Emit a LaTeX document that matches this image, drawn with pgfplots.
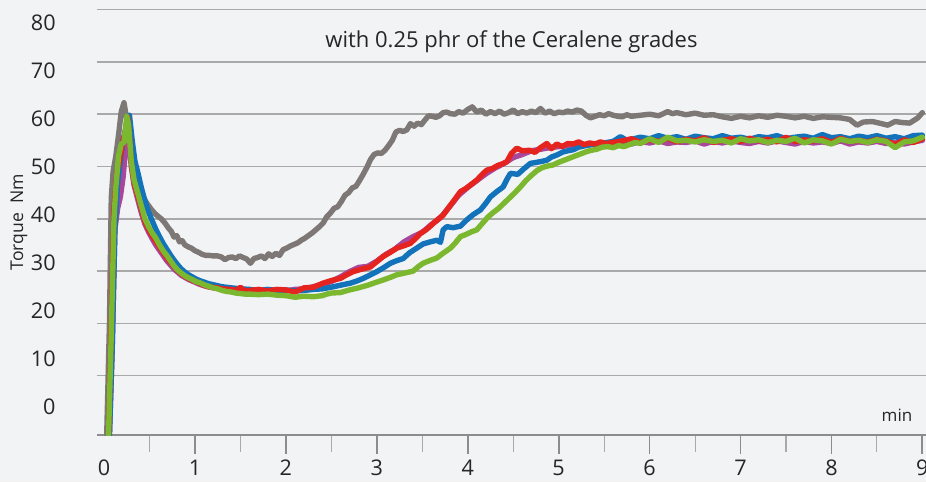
\documentclass[border=0pt]{standalone}
\usepackage{pgfplots}
\pgfplotsset{compat=1.18}
\usepackage{fontspec}
\setmainfont{Open Sans}
\definecolor{bg}{HTML}{F2F3F5}
\definecolor{gridgray}{HTML}{A9A9A9}
\definecolor{tickgray}{HTML}{8C8C8C}
\definecolor{cgrey}{HTML}{7D7875}
\definecolor{cblue}{HTML}{1273BB}
\definecolor{cred}{HTML}{E52420}
\definecolor{cmag}{HTML}{A8479B}
\definecolor{cgreen}{HTML}{7CB82F}
\begin{document}
\begin{tikzpicture}
\fill[bg] (-48.5pt,-23.5pt) rectangle (414.5pt,217.5pt);
\useasboundingbox (-48.5pt,-23.5pt) rectangle (414.5pt,217.5pt);
\begin{axis}[
  at={(0,0)}, anchor=south west,
  scale only axis, width=414.5pt, height=212.7pt,
  xmin=-0.077, xmax=9.04, ymin=-1.34, ymax=80,
  axis line style={draw=none},
  xtick pos=bottom, ytick pos=left,
  tick align=outside,
  xtick={1,2,3,4,5,6,7,8,9},
  xticklabels={1,2,3,4,5,6,7,8,9},
  minor xtick={0.5,1.5,2.5,3.5,4.5,5.5,6.5,7.5,8.5},
  extra x ticks={0}, extra x tick labels={0},
  extra x tick style={x tick style={draw=none}},
  major tick length=9.5pt, minor tick length=8.5pt,
  x tick style={draw=tickgray, line width=0.9pt},
  minor x tick style={draw=gridgray, line width=0.55pt},
  x tick label style={font=\fontsize{10.8}{13}\selectfont, text=black!85, anchor=center, yshift=-7pt},
  ytick={4.015,13.193,22.371,31.549,40.727,49.905,59.083,68.261,77.439},
  yticklabels={0,10,20,30,40,50,60,70,80},
  y tick style={draw=none},
  y tick label style={font=\fontsize{10.8}{13}\selectfont, text=black!85, anchor=east, inner sep=0pt, xshift=-11pt},
  extra y ticks={10,20,30,40,50,60,70,80},
  extra y tick labels={},
  extra y tick style={grid=major, y tick style={draw=none}},
  major grid style={draw=gridgray, line width=0.75pt},
  title={with 0.25 phr of the Ceralene grades},
  title style={at={(0.5,0.924)}, anchor=center, yshift=-6pt, font=\fontsize{11}{13}\selectfont, text=black!85},
  ylabel={Torque\ \ Nm},
  ylabel style={at={(axis description cs:-0.0941,0.50)}, anchor=center, font=\fontsize{8.8}{10}\selectfont, text=black!85},
  xlabel={min},
  xlabel style={at={(axis description cs:0.965,0.047)}, anchor=center, font=\fontsize{8.5}{10}\selectfont, text=black!85},
  every axis plot/.append style={line width=2.7pt, line join=round, line cap=round},
]
\draw[tickgray, line width=0.8pt] (rel axis cs:0,0) -- (rel axis cs:1,0);
% grey
\addplot[cgrey] coordinates {
(0.03,-1.3)(0.06,20)(0.08,44)(0.10,49)(0.13,52)(0.16,56)(0.19,60.5)(0.22,62.2)(0.25,59)(0.28,54)
(0.31,50.5)(0.34,48.5)(0.37,46.5)(0.40,45)(0.43,44.2)(0.47,43)(0.52,41.8)(0.56,41.0)(0.60,40.4)(0.63,40.0)
(0.67,39.2)(0.71,38.2)(0.74,37.6)(0.77,36.5)(0.80,36.8)(0.83,35.6)(0.86,35.8)(0.89,35.0)(0.93,34.6)(0.96,34.4)
(1.00,33.9)(1.04,33.6)(1.08,33.2)(1.12,33.0)(1.16,33.0)(1.20,32.9)(1.25,32.9)(1.29,32.7)(1.33,32.2)(1.37,32.6)
(1.41,32.7)(1.45,32.4)(1.49,32.9)(1.53,32.6)(1.57,32.3)(1.61,31.5)(1.65,32.4)(1.69,32.6)(1.73,32.9)(1.77,32.4)
(1.81,33.3)(1.85,32.8)(1.89,33.4)(1.93,33.0)(1.97,34.1)(2.01,34.4)(2.05,34.8)(2.09,35.1)(2.13,35.4)(2.17,35.9)
(2.21,36.3)(2.25,36.8)(2.29,37.3)(2.33,37.9)(2.37,38.5)(2.41,39.2)(2.45,40.4)(2.49,41.1)(2.53,42.0)(2.57,42.3)
(2.61,43.3)(2.65,44.5)(2.69,45.0)(2.73,45.9)(2.77,46.2)(2.81,47.3)(2.85,48.5)(2.89,49.8)(2.93,51.3)(2.97,52.3)
(3.01,52.6)(3.05,52.5)(3.09,53.1)(3.13,54.0)(3.17,55.0)(3.21,56.6)(3.25,56.9)(3.29,56.7)(3.33,57.0)(3.37,58.2)
(3.41,57.7)(3.45,58.3)(3.49,58.0)(3.53,58.9)(3.57,59.7)(3.61,59.6)(3.65,59.4)(3.69,59.7)(3.73,60.3)(3.77,60.4)
(3.81,60.1)(3.86,60.0)(3.90,60.5)(3.95,60.2)(4.00,60.9)(4.05,61.4)(4.10,60.4)(4.15,60.8)(4.20,60.0)(4.25,60.5)
(4.30,60.1)(4.35,60.6)(4.40,60.0)(4.45,60.3)(4.50,60.8)(4.55,60.1)(4.60,60.5)(4.65,60.2)(4.70,60.6)(4.75,60.3)
(4.80,61.1)(4.85,60.2)(4.90,60.6)(4.95,60.1)(5.00,60.4)(5.05,60.3)(5.10,60.6)(5.15,60.4)(5.20,60.8)(5.25,60.6)
(5.30,59.8)(5.35,59.3)(5.40,59.6)(5.45,59.9)(5.50,59.7)(5.55,60.1)(5.60,59.8)(5.65,59.6)(5.70,59.5)(5.75,59.9)
(5.80,59.6)(5.90,59.8)(6.00,60.0)(6.10,59.7)(6.20,60.5)(6.25,60.1)(6.30,60.3)(6.40,59.9)(6.50,60.2)(6.60,59.8)
(6.70,59.9)(6.80,59.5)(6.90,59.2)(7.00,59.6)(7.10,59.3)(7.20,59.7)(7.30,59.4)(7.40,59.8)(7.50,59.6)(7.60,59.3)
(7.70,59.6)(7.80,59.2)(7.90,59.5)(8.00,59.4)(8.10,59.3)(8.20,59.0)(8.28,57.9)(8.35,58.5)(8.45,58.6)(8.55,58.2)
(8.62,57.9)(8.70,58.6)(8.78,58.4)(8.86,58.3)(8.95,59.3)(9.00,60.3)
};
% magenta
\addplot[cmag] coordinates {
(0.06,-1.3)(0.09,15)(0.12,38)(0.15,42)(0.18,44.2)(0.21,48)(0.23,51.9)(0.26,56)(0.28,54)(0.30,50)
(0.33,46.5)(0.37,43.8)(0.41,41.2)(0.45,39)(0.49,37.5)(0.53,36.2)(0.57,35.0)(0.61,34.0)(0.65,33.0)(0.69,32.0)
(0.73,31.2)(0.77,30.4)(0.81,29.8)(0.85,29.2)(0.89,28.8)(0.93,28.4)(0.97,28.1)(1.01,27.8)(1.05,27.5)(1.10,27.2)
(1.15,27.0)(1.20,26.8)(1.30,26.6)(1.40,26.4)(1.50,26.3)(1.60,26.2)(1.70,26.4)(1.80,26.1)(1.90,26.3)(2.00,26.2)
(2.10,26.5)(2.20,26.6)(2.30,27.0)(2.40,27.5)(2.50,28.0)(2.60,28.9)(2.70,29.9)(2.80,30.7)(2.90,30.9)(3.00,31.9)
(3.10,33.2)(3.20,34.2)(3.30,35.6)(3.40,36.6)(3.50,37.4)(3.60,38.9)(3.70,40.2)(3.80,42.3)(3.90,44.5)(4.00,46.0)
(4.10,47.3)(4.20,48.6)(4.30,49.7)(4.40,50.6)(4.50,51.7)(4.60,52.3)(4.70,53.0)(4.80,53.3)(4.90,53.6)(5.00,53.8)
(5.10,54.0)(5.20,54.2)(5.30,54.1)(5.40,54.3)(5.50,54.4)(5.60,54.5)(5.70,54.7)(5.80,54.3)(5.90,54.8)(6.00,54.5)
(6.10,54.9)(6.20,54.4)(6.30,54.7)(6.40,54.6)(6.50,54.9)(6.60,54.3)(6.70,54.8)(6.80,54.5)(6.90,54.9)(7.00,54.6)
(7.10,54.4)(7.20,54.8)(7.30,54.5)(7.40,54.9)(7.50,54.6)(7.60,54.3)(7.70,54.8)(7.80,54.5)(7.90,54.7)(8.00,54.4)
(8.10,54.9)(8.20,54.3)(8.30,54.7)(8.40,54.5)(8.50,54.8)(8.60,54.4)(8.70,54.6)(8.80,54.3)(8.90,54.7)(9.00,55.0)
};
% blue
\addplot[cblue] coordinates {
(0.06,-1.3)(0.09,15)(0.12,38)(0.15,47)(0.18,51)(0.21,55)(0.25,58)(0.28,59.8)(0.31,55)(0.34,51)
(0.37,49)(0.41,46)(0.45,43.4)(0.49,41.3)(0.53,39.6)(0.57,38)(0.61,36.6)(0.65,35.3)(0.69,34.2)(0.73,33.1)
(0.77,32.1)(0.81,31.2)(0.85,30.4)(0.89,29.8)(0.93,29.3)(0.97,28.9)(1.01,28.5)(1.05,28.2)(1.10,27.9)(1.15,27.6)
(1.20,27.4)(1.25,27.2)(1.30,27.0)(1.40,26.8)(1.50,26.6)(1.60,26.5)(1.70,26.3)(1.80,26.5)(1.90,26.3)(2.00,26.4)
(2.10,26.2)(2.20,26.3)(2.30,26.5)(2.40,26.6)(2.52,27.0)(2.60,27.3)(2.71,27.7)(2.78,28.1)(2.85,28.6)(2.92,29.2)
(3.00,29.9)(3.07,30.6)(3.15,31.5)(3.22,32.0)(3.29,32.4)(3.36,33.5)(3.44,34.4)(3.51,35.2)(3.59,35.6)(3.66,35.9)
(3.70,35.5)(3.73,37.9)(3.77,38.5)(3.84,38.3)(3.92,38.6)(3.99,39.8)(4.06,40.8)(4.14,41.7)(4.20,43.0)(4.25,44.2)
(4.32,45.2)(4.39,46.1)(4.43,47.5)(4.47,48.7)(4.55,48.5)(4.62,49.6)(4.69,50.6)(4.76,50.8)(4.82,51.0)(4.87,51.2)
(4.92,51.8)(4.98,52.2)(5.05,52.8)(5.10,53.0)(5.16,53.2)(5.22,53.7)(5.30,54.0)(5.40,54.3)(5.50,54.5)(5.60,54.8)
(5.68,55.7)(5.75,55.0)(5.80,55.2)(5.90,55.6)(6.00,55.3)(6.10,55.9)(6.20,55.4)(6.30,55.7)(6.40,55.2)(6.50,55.8)
(6.60,55.5)(6.70,55.3)(6.80,55.9)(6.90,55.4)(7.00,55.6)(7.10,55.2)(7.20,55.7)(7.30,55.5)(7.40,55.9)(7.50,55.3)
(7.60,55.6)(7.70,55.8)(7.80,55.4)(7.90,56.1)(8.00,55.5)(8.10,55.7)(8.20,55.3)(8.30,55.8)(8.40,55.5)(8.50,55.9)
(8.60,55.4)(8.70,55.7)(8.80,55.3)(8.90,55.9)(9.00,56.0)
};
% red
\addplot[cred] coordinates {
(0.05,-1.3)(0.08,20)(0.11,42)(0.14,48.7)(0.17,51)(0.21,55)(0.24,57)(0.26,59.5)(0.28,56)(0.30,51)
(0.33,47)(0.37,44.5)(0.41,42)(0.45,39.5)(0.49,38)(0.53,36.8)(0.57,35.7)(0.61,34.6)(0.65,33.6)(0.69,32.6)
(0.73,31.7)(0.77,30.9)(0.81,30.1)(0.85,29.5)(0.89,29.0)(0.93,28.6)(0.97,28.3)(1.01,28.0)(1.05,27.7)(1.10,27.3)
(1.15,27.0)(1.20,26.9)(1.25,26.8)(1.30,26.6)(1.40,26.5)(1.45,26.3)(1.50,26.9)(1.55,26.2)(1.60,26.3)(1.70,26.5)
(1.80,26.2)(1.90,26.5)(2.00,26.4)(2.10,26.0)(2.20,26.8)(2.30,26.9)(2.41,27.7)(2.50,28.2)(2.60,28.6)(2.67,29.3)
(2.74,29.9)(2.82,30.3)(2.93,30.8)(3.00,31.8)(3.07,32.8)(3.15,33.6)(3.22,34.4)(3.29,34.8)(3.37,35.3)(3.43,36.3)
(3.48,37.2)(3.55,38.0)(3.62,39.1)(3.68,40.0)(3.73,40.7)(3.78,41.9)(3.81,42.6)(3.87,44.0)(3.92,45.2)(3.98,45.8)
(4.04,46.6)(4.10,47.4)(4.16,48.5)(4.21,49.3)(4.27,49.6)(4.33,50.2)(4.38,50.5)(4.43,50.9)(4.48,52.5)(4.54,53.5)
(4.60,53.0)(4.68,53.1)(4.74,52.7)(4.80,53.6)(4.87,54.4)(4.92,53.4)(4.98,54.3)(5.04,53.8)(5.10,54.4)(5.16,54.3)
(5.22,54.7)(5.28,54.2)(5.34,54.5)(5.40,54.3)(5.46,54.7)(5.52,54.4)(5.60,54.6)(5.70,54.9)(5.80,55.3)(5.90,54.6)
(6.00,55.1)(6.10,54.8)(6.20,55.4)(6.30,54.7)(6.40,55.2)(6.50,54.9)(6.60,55.5)(6.70,54.6)(6.80,55.0)(6.90,55.3)
(7.00,54.8)(7.10,55.4)(7.20,54.9)(7.30,55.2)(7.40,54.7)(7.50,55.6)(7.60,54.8)(7.70,55.1)(7.80,54.9)(7.90,55.3)
(8.00,54.6)(8.10,55.4)(8.20,54.8)(8.30,55.0)(8.40,54.7)(8.50,55.2)(8.60,54.9)(8.70,54.2)(8.80,55.1)(8.90,54.6)
(9.00,55.3)
};
% green
\addplot[cgreen] coordinates {
(0.05,-1.3)(0.08,18)(0.11,40)(0.13,46)(0.16,52)(0.19,54.3)(0.22,54.6)(0.25,59.6)(0.27,58)(0.30,51)
(0.33,47.5)(0.37,45)(0.41,42.5)(0.45,40.0)(0.49,38.5)(0.53,37.3)(0.57,36.3)(0.61,35.0)(0.65,33.9)(0.69,33.0)
(0.73,32.0)(0.77,31.0)(0.81,30.2)(0.85,29.6)(0.89,29.1)(0.93,28.7)(0.97,28.4)(1.01,28.0)(1.05,27.8)(1.10,27.4)
(1.15,27.1)(1.20,26.8)(1.25,26.6)(1.30,26.3)(1.35,26.1)(1.40,26.0)(1.45,25.8)(1.50,25.7)(1.55,25.6)(1.60,25.6)
(1.70,25.5)(1.80,25.6)(1.90,25.4)(2.00,25.3)(2.10,25.0)(2.20,25.2)(2.30,25.1)(2.40,25.3)(2.45,25.6)(2.50,25.8)
(2.60,25.9)(2.70,26.4)(2.80,26.8)(2.90,27.3)(3.00,27.9)(3.07,28.3)(3.15,28.8)(3.22,29.3)(3.30,29.6)(3.40,30.0)
(3.46,30.9)(3.51,31.5)(3.58,32.0)(3.66,32.5)(3.72,33.3)(3.81,34.4)(3.86,35.3)(3.92,36.6)(3.98,37.0)(4.04,37.5)
(4.10,37.9)(4.16,39.1)(4.22,40.3)(4.28,41.2)(4.34,42.0)(4.40,43.0)(4.46,44.0)(4.52,45.0)(4.58,46.1)(4.64,47.3)
(4.70,48.3)(4.76,49.2)(4.82,49.8)(4.88,50.1)(4.94,50.3)(5.00,50.8)(5.06,51.2)(5.12,51.6)(5.18,52.0)(5.24,52.4)
(5.30,52.8)(5.36,53.1)(5.42,53.3)(5.48,53.7)(5.54,53.8)(5.60,53.6)(5.66,54.0)(5.72,53.8)(5.78,54.2)(5.84,54.6)
(5.90,54.4)(6.00,55.3)(6.10,54.6)(6.20,55.6)(6.30,54.9)(6.40,55.0)(6.50,54.7)(6.60,55.1)(6.70,54.8)(6.80,55.0)
(6.90,54.5)(7.00,55.3)(7.10,54.9)(7.20,55.1)(7.30,54.6)(7.40,55.0)(7.50,54.8)(7.60,55.4)(7.70,54.5)(7.80,55.1)
(7.90,54.9)(8.00,54.3)(8.10,55.2)(8.20,54.8)(8.30,55.0)(8.40,54.6)(8.50,55.1)(8.60,54.8)(8.70,53.6)(8.80,54.7)
(8.90,54.9)(9.00,55.6)
};
\end{axis}
\end{tikzpicture}
\end{document}
